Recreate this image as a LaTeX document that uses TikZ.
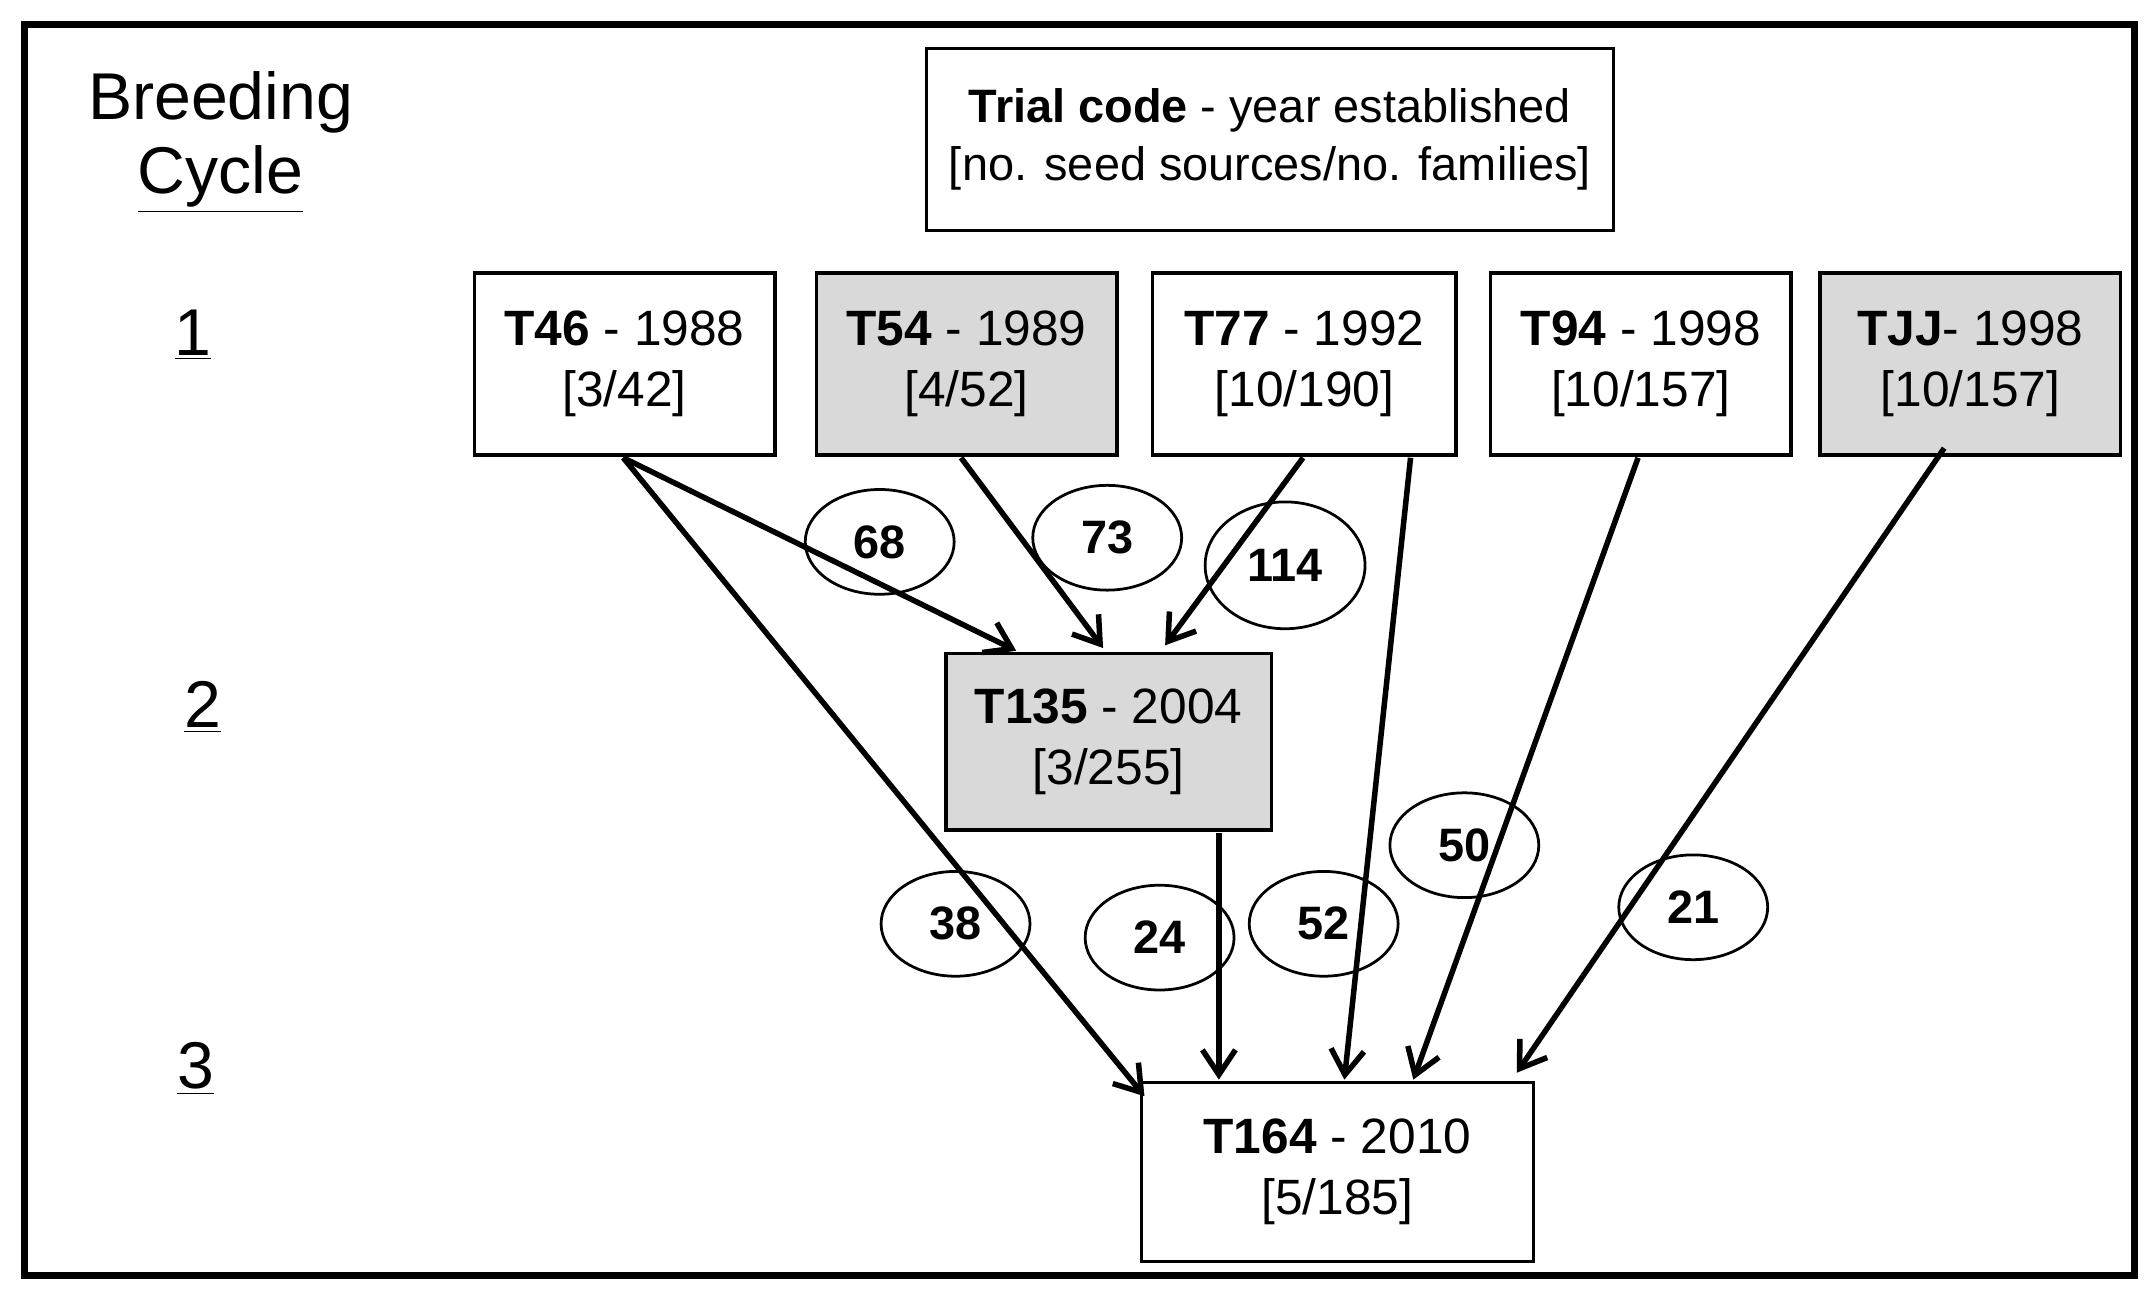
\documentclass[tikz,border=0pt]{standalone}
\usepackage{fontspec}
\setmainfont{Liberation Sans}
\usetikzlibrary{arrows.meta,shapes.geometric}
\begin{document}
\begin{tikzpicture}[x=0.5pt,y=-0.5pt,
  box/.style={draw,line width=1.2pt,minimum width=109pt,minimum height=66pt,align=center,font=\fontsize{18}{22}\selectfont},
  gbox/.style={box,fill=gray!30},
  ell/.style={draw,line width=1pt,ellipse,minimum width=54pt,minimum height=38pt,inner sep=0pt,font=\bfseries\fontsize{17}{20}\selectfont},
  arr/.style={line width=2pt,-{Straight Barb[length=9pt,width=12pt,line width=2pt]}},
  lab/.style={font=\fontsize{24}{28}\selectfont}]
\useasboundingbox (0,0) rectangle (1560,940);
\fill[white] (0,0) rectangle (1560,940);
\draw[line width=2.5pt] (18,18) rectangle (1548,925);
\node[lab] (bc1) at (160,74) {Breeding};
\node[lab] (bc2) at (160,130) {\underline{Cycle}};
\node[lab] (c1) at (140,243) {\underline{1}};
\node[lab] (c2) at (147,513) {\underline{2}};
\node[lab] (c3) at (142,775) {\underline{3}};
\node[draw,line width=1.2pt,minimum width=249pt,minimum height=66pt,align=center,font=\fontsize{17}{21}\selectfont] (leg) at (921,101) {\textbf{Trial code} - year established\\{}[no. seed sources/no. families]};
\node[box] (t46) at (453,264) {\textbf{T46} - 1988\\{}[3/42]};
\node[gbox] (t54) at (701,264) {\textbf{T54} - 1989\\{}[4/52]};
\node[box,minimum width=110pt] (t77) at (946,264) {\textbf{T77} - 1992\\{}[10/190]};
\node[box] (t94) at (1190,264) {\textbf{T94} - 1998\\{}[10/157]};
\node[gbox] (tjj) at (1429,264) {\textbf{TJJ}- 1998\\{}[10/157]};
\node[gbox,minimum width=118pt,minimum height=64pt] (t135) at (804,538) {\textbf{T135} - 2004\\{}[3/255]};
\node[box,minimum width=142pt,minimum height=65pt] (t164) at (970,850) {\textbf{T164} - 2010\\{}[5/185]};
\coordinate (s46) at (452,332); \coordinate (s54) at (697,332);
\coordinate (s77a) at (945,332); \coordinate (s77b) at (1023,332);
\coordinate (s94) at (1188,332); \coordinate (sjj) at (1410,325);
\coordinate (s135) at (884,604);
\coordinate (e1) at (737,472); \coordinate (e2) at (800,470); \coordinate (e3) at (845,468);
\coordinate (f1) at (830,795); \coordinate (f2) at (884,783); \coordinate (f3) at (975,783);
\coordinate (f4) at (1025,783); \coordinate (f5) at (1100,778);
\draw[arr] (s46) -- (e1);
\draw[arr] (s46) -- (f1);
\draw[arr] (s54) -- (e2);
\draw[arr] (s77a) -- (e3);
\draw[arr] (s135) -- (f2);
\draw[arr] (s77b) -- (f3);
\draw[arr] (s94) -- (f4);
\draw[arr] (sjj) -- (f5);
\node[ell] (n68) at (638,393) {68};
\node[ell] (n73) at (803,390) {73};
\node[ell,minimum width=58pt,minimum height=46pt] (n114) at (932,410) {114};
\node[ell] (n38) at (693,670) {38};
\node[ell] (n24) at (841,680) {24};
\node[ell] (n52) at (960,670) {52};
\node[ell] (n50) at (1062,613) {50};
\node[ell] (n21) at (1228,658) {21};
\end{tikzpicture}
\end{document}
